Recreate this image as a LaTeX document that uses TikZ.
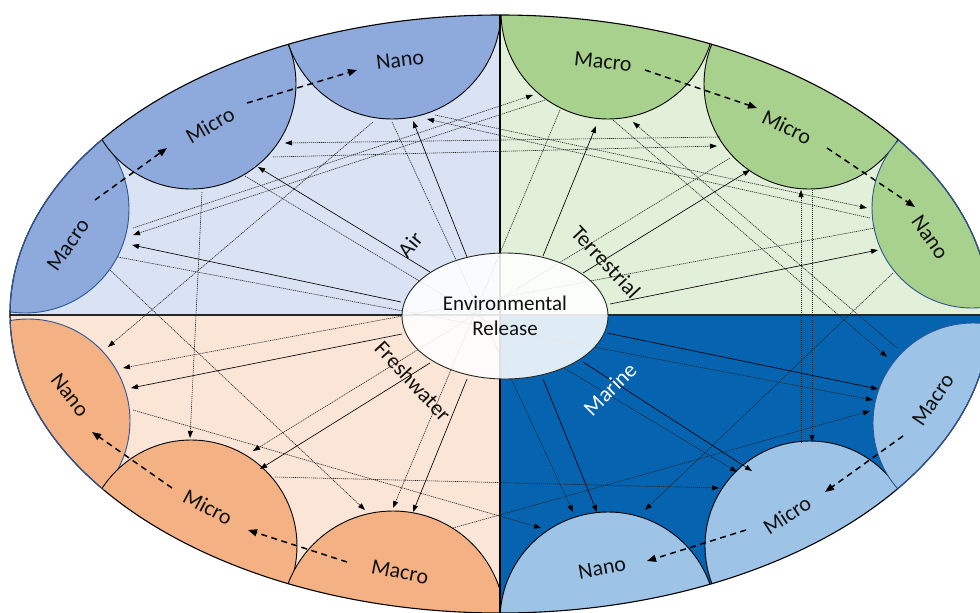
\documentclass[tikz,border=0pt]{standalone}
\usepackage{fontspec}
\setmainfont{Carlito}
\usetikzlibrary{arrows.meta,shapes.geometric}
\definecolor{airbg}{HTML}{DAE3F3}
\definecolor{airfg}{HTML}{8EA9DB}
\definecolor{terbg}{HTML}{E2F0D9}
\definecolor{terfg}{HTML}{A9D18E}
\definecolor{frebg}{HTML}{FBE5D6}
\definecolor{frefg}{HTML}{F4B183}
\definecolor{marbg}{HTML}{0563B0}
\definecolor{marfg}{HTML}{9DC3E6}
\definecolor{edgeblue}{HTML}{2F5597}
\definecolor{txt}{HTML}{111111}
\begin{document}
\begin{tikzpicture}[x=1pt,y=-1pt,
  lbl/.style={font=\fontsize{22}{26}\selectfont, text=txt, inner sep=0pt},
  envtxt/.style={font=\fontsize{21}{25}\selectfont, text=txt},
  shp/.style={line width=0.9pt, draw=black},
  sideshp/.style={line width=0.9pt, draw=edgeblue},
  envln/.style={line width=0.65pt, draw=black, -{Triangle[length=7pt,width=5pt]}},
  crossln/.style={line width=0.6pt, draw=black!85, dash pattern=on 1.2pt off 0.8pt, -{Triangle[length=7pt,width=5pt,color=black]}},
  stagearr/.style={line width=1.5pt, draw=black, dash pattern=on 6pt off 4.5pt, -{Triangle[length=9pt,width=7pt]}},
]
\useasboundingbox (0,0) rectangle (980,613);

% ---------- quadrants and size-class shapes ----------
\begin{scope}
  \clip (500,314) ellipse [x radius=490, y radius=299];
  \fill[airbg] (0,0) rectangle (500,315);
  \fill[terbg] (500,0) rectangle (995,315);
  \fill[frebg] (0,315) rectangle (500,620);
  \fill[marbg] (500,315) rectangle (995,620);
  % Air
  \begin{scope}
    \clip (0,0) rectangle (500,315);
    \filldraw[fill=airfg, sideshp] (25,209) circle [radius=104];
    \filldraw[fill=airfg, shp] (191,84) circle [radius=105];
    \filldraw[fill=airfg, shp] (392,10) circle [radius=109];
  \end{scope}
  % Terrestrial
  \begin{scope}
    \clip (500,0) rectangle (995,315);
    \filldraw[fill=terfg, shp] (608,12) circle [radius=107];
    \filldraw[fill=terfg, shp] (809,84) circle [radius=105];
    \filldraw[fill=terfg, sideshp] (972,208) circle [radius=100];
  \end{scope}
  % Freshwater
  \begin{scope}
    \clip (0,315) rectangle (500,620);
    \filldraw[fill=frefg, sideshp] (28,421) circle [radius=102];
    \filldraw[fill=frefg, shp] (191,546) circle [radius=106];
    \filldraw[fill=frefg, shp] (393,623) circle [radius=112];
  \end{scope}
  % Marine
  \begin{scope}
    \clip (500,315) rectangle (995,620);
    \filldraw[fill=marfg, shp] (608,620) circle [radius=108];
    \filldraw[fill=marfg, shp] (810,546) circle [radius=105];
    \filldraw[fill=marfg, sideshp] (973,423) circle [radius=100];
  \end{scope}
  % dividers
  \draw[line width=1.8pt] (500,0) -- (500,620);
  \draw[line width=1.8pt, draw=black!85] (0,315) -- (995,315);
\end{scope}
\draw[line width=1.1pt] (500,314) ellipse [x radius=490, y radius=299];
\begin{scope}
  \clip (25,209) circle [radius=104]; \clip (0,0) rectangle (500,315);
  \draw[edgeblue, line width=1.1pt] (500,314) ellipse [x radius=490, y radius=299];
\end{scope}
\begin{scope}
  \clip (972,208) circle [radius=100]; \clip (500,0) rectangle (995,315);
  \draw[edgeblue, line width=1.1pt] (500,314) ellipse [x radius=490, y radius=299];
\end{scope}
\begin{scope}
  \clip (28,421) circle [radius=102]; \clip (0,315) rectangle (500,620);
  \draw[edgeblue, line width=1.1pt] (500,314) ellipse [x radius=490, y radius=299];
\end{scope}
\begin{scope}
  \clip (973,423) circle [radius=100]; \clip (500,315) rectangle (995,620);
  \draw[edgeblue, line width=1.1pt] (500,314) ellipse [x radius=490, y radius=299];
\end{scope}

% ---------- cross-compartment transfer lines ----------
\coordinate (d1a) at (118,257); \coordinate (d1b) at (873,400);
\coordinate (d2a) at (245,176); \coordinate (d2b) at (737,472);
\coordinate (d3a) at (275,477); \coordinate (d3b) at (719,488);
\coordinate (d4a) at (133,410); \coordinate (d4b) at (541,528);
\coordinate (d5a) at (453,528); \coordinate (d5b) at (870,411);
\coordinate (d6a) at (812,190); \coordinate (d6b) at (812,442);
\coordinate (d7a) at (801,443); \coordinate (d7b) at (801,190);
\coordinate (d8a) at (893,273); \coordinate (d8b) at (645,510);
\coordinate (d9a) at (613,120); \coordinate (d9b) at (887,357);
\coordinate (d10a) at (897,348); \coordinate (d10b) at (633,122);
\coordinate (d11a) at (133,228); \coordinate (d11b) at (533,95);
\coordinate (d12a) at (545,100); \coordinate (d12b) at (133,235);
\coordinate (d13a) at (435,115); \coordinate (d13b) at (867,208);
\coordinate (d14a) at (870,218); \coordinate (d14b) at (427,119);
\coordinate (d15a) at (875,228); \coordinate (d15b) at (123,368);
\coordinate (d16a) at (560,110); \coordinate (d16b) at (393,508);
\coordinate (d17a) at (730,158); \coordinate (d17b) at (253,451);
\coordinate (d18a) at (373,122); \coordinate (d18b) at (108,347);
\coordinate (d19a) at (392,122); \coordinate (d19b) at (573,512);
\coordinate (d20a) at (202,192); \coordinate (d20b) at (190,438);
\coordinate (d21a) at (110,270); \coordinate (d21b) at (365,510);
\coordinate (d22a) at (273,157); \coordinate (d22b) at (717,146);
\coordinate (d23a) at (720,137); \coordinate (d23b) at (285,143);
\foreach \i in {1,...,23} {\draw[crossln] (d\i a) -- (d\i b);}

% ---------- environmental release ----------
\node[ellipse, minimum width=206pt, minimum height=126pt, inner sep=0pt,
      fill=white, fill opacity=0.88, text opacity=1, draw=black!85,
      line width=0.9pt, align=center, envtxt] (env) at (505,316) {Environmental\\Release};

\coordinate (s1) at (467,257); \coordinate (t1) at (413,121);
\coordinate (s2) at (430,272); \coordinate (t2) at (258,167);
\coordinate (s3) at (401,302); \coordinate (t3) at (132,245);
\coordinate (s4) at (543,256); \coordinate (t4) at (596,126);
\coordinate (s5) at (583,273); \coordinate (t5) at (750,170);
\coordinate (s6) at (610,304); \coordinate (t6) at (878,250);
\coordinate (s7) at (402,334); \coordinate (t7) at (131,388);
\coordinate (s8) at (430,363); \coordinate (t8) at (260,469);
\coordinate (s9) at (467,379); \coordinate (t9) at (413,512);
\coordinate (s10) at (607,333); \coordinate (t10) at (878,389);
\coordinate (s11) at (583,362); \coordinate (t11) at (752,471);
\coordinate (s12) at (543,379); \coordinate (t12) at (597,512);
\foreach \i in {1,...,12} {\draw[envln] (s\i) -- (t\i);}

% ---------- size-class progression arrows ----------
\coordinate (g1a) at (95,200);  \coordinate (g1b) at (167,148);
\coordinate (g2a) at (247,103); \coordinate (g2b) at (357,70);
\coordinate (g3a) at (645,70);  \coordinate (g3b) at (757,108);
\coordinate (g4a) at (827,148); \coordinate (g4b) at (915,207);
\coordinate (g5a) at (347,562); \coordinate (g5b) at (248,530);
\coordinate (g6a) at (172,488); \coordinate (g6b) at (92,432);
\coordinate (g7a) at (903,436); \coordinate (g7b) at (825,492);
\coordinate (g8a) at (746,530); \coordinate (g8b) at (647,561);
\foreach \i in {1,...,8} {\draw[stagearr] (g\i a) -- (g\i b);}

% ---------- labels ----------
\node[lbl, rotate=7]   (aNano)  at (400,60)  {Nano};
\node[lbl, rotate=30]  (aMicro) at (210,125) {Micro};
\node[lbl, rotate=55]  (aMacro) at (68,245)  {Macro};
\node[lbl, rotate=-6]  (tMacro) at (603,62)  {Macro};
\node[lbl, rotate=-26] (tMicro) at (787,127) {Micro};
\node[lbl, rotate=-55] (tNano)  at (930,237) {Nano};
\node[lbl, rotate=-52] (fNano)  at (70,395)  {Nano};
\node[lbl, rotate=-28] (fMicro) at (208,507) {Micro};
\node[lbl, rotate=-11] (fMacro) at (400,572) {Macro};
\node[lbl, rotate=10]  (mNano)  at (602,568) {Nano};
\node[lbl, rotate=33]  (mMicro) at (787,515) {Micro};
\node[lbl, rotate=56]  (mMacro) at (933,400) {Macro};

\node[lbl, rotate=50]  (qAir) at (410,245) {Air};
\node[lbl, rotate=-47] (qTer) at (606,262) {Terrestrial};
\node[lbl, rotate=-47] (qFre) at (413,381) {Freshwater};
\node[lbl, rotate=45, text=white] (qMar) at (610,389) {Marine};
\end{tikzpicture}
\end{document}
